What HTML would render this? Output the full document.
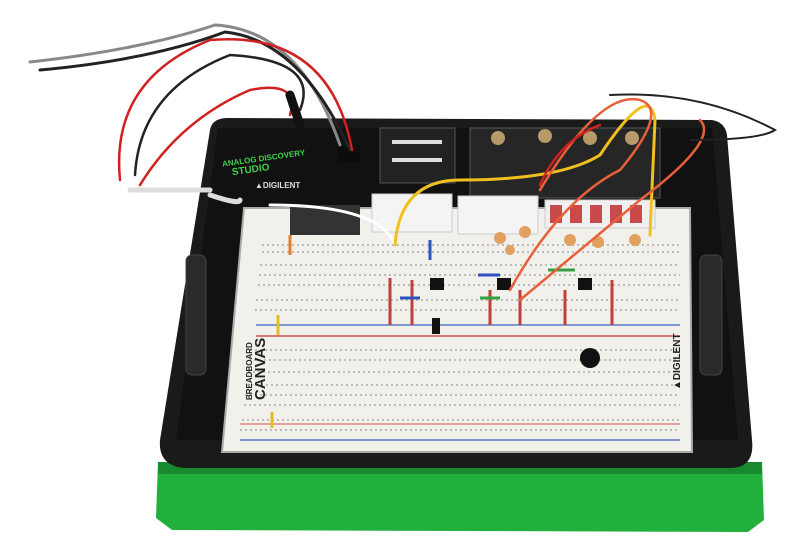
<!DOCTYPE html>
<html><head><meta charset="utf-8"><style>
html,body{margin:0;padding:0;background:#fff;}
svg{display:block}
text{font-family:"Liberation Sans",sans-serif;font-weight:bold}
</style></head><body>
<svg width="800" height="558" viewBox="0 0 800 558" xmlns="http://www.w3.org/2000/svg">
<rect width="800" height="558" fill="#fff"/>
<!-- green base -->
<path d="M158 462 L762 462 L764 520 L748 532 L172 530 L156 518 Z" fill="#22b03c"/>
<path d="M158 462 L762 462 L762 474 L158 474 Z" fill="#168a2c"/>
<!-- black body -->
<path d="M210 130 Q212 118 228 118 L712 120 Q725 122 727 135 L752 440 Q755 468 730 468 L185 468 Q158 466 160 440 Z" fill="#1a1a1a"/>
<path d="M218 128 L712 128 L738 440 L176 440 Z" fill="#111"/>
<!-- handles -->
<rect x="186" y="255" width="20" height="120" rx="6" fill="#2a2a2a" stroke="#444"/>
<rect x="700" y="255" width="22" height="120" rx="6" fill="#2a2a2a" stroke="#444"/>
<!-- top modules -->
<rect x="380" y="128" width="75" height="55" fill="#222" stroke="#555"/>
<g fill="#ddd"><rect x="392" y="140" width="50" height="4"/><rect x="392" y="158" width="50" height="4"/></g>
<rect x="470" y="128" width="190" height="70" fill="#262626" stroke="#555"/>
<g fill="#b89a6a"><circle cx="498" cy="138" r="7"/><circle cx="545" cy="136" r="7"/><circle cx="590" cy="138" r="7"/><circle cx="632" cy="138" r="7"/></g>
<!-- Analog discovery studio text -->
<text x="222" y="160" font-size="8" fill="#3fd14a" transform="rotate(-8 270 160)">ANALOG DISCOVERY</text>
<text x="232" y="170" font-size="10" fill="#3fd14a" transform="rotate(-8 270 170)">STUDIO</text>
<text x="255" y="188" font-size="8" fill="#ddd">▲DIGILENT</text>
<rect x="338" y="145" width="22" height="18" fill="#0c0c0c"/>
<!-- breadboard -->
<path d="M244 208 L690 208 L692 452 L222 452 Z" fill="#f2f0ea" stroke="#aaa" stroke-width="2"/>
<rect x="372" y="194" width="80" height="38" fill="#f4f4f4" stroke="#ccc"/>
<rect x="458" y="196" width="80" height="38" fill="#f4f4f4" stroke="#ccc"/>
<rect x="545" y="200" width="110" height="28" fill="#f0f0f0" stroke="#ccc"/>
<g fill="#c84a4a"><rect x="550" y="205" width="12" height="18"/><rect x="570" y="205" width="12" height="18"/><rect x="590" y="205" width="12" height="18"/><rect x="610" y="205" width="12" height="18"/><rect x="630" y="205" width="12" height="18"/></g>
<rect x="290" y="205" width="70" height="30" fill="#333"/>
<!-- hole rows -->
<g stroke="#bbb" stroke-width="2" stroke-dasharray="2 3">
<line x1="262" y1="245" x2="680" y2="245"/><line x1="262" y1="252" x2="680" y2="252"/>
<line x1="260" y1="265" x2="680" y2="265"/><line x1="259" y1="275" x2="680" y2="275"/><line x1="258" y1="285" x2="680" y2="285"/>
<line x1="256" y1="300" x2="680" y2="300"/><line x1="255" y1="310" x2="680" y2="310"/>
<line x1="250" y1="350" x2="680" y2="350"/><line x1="249" y1="360" x2="680" y2="360"/><line x1="248" y1="372" x2="680" y2="372"/>
<line x1="246" y1="385" x2="680" y2="385"/><line x1="245" y1="395" x2="680" y2="395"/><line x1="244" y1="405" x2="680" y2="405"/>
<line x1="242" y1="420" x2="680" y2="420"/><line x1="240" y1="430" x2="680" y2="430"/>
</g>
<line x1="256" y1="325" x2="680" y2="325" stroke="#5a7ac8" stroke-width="1.5"/>
<line x1="256" y1="336" x2="680" y2="336" stroke="#d05050" stroke-width="1.5"/>
<line x1="240" y1="440" x2="680" y2="440" stroke="#5a7ac8" stroke-width="1.5"/>
<line x1="240" y1="424" x2="680" y2="424" stroke="#d05050" stroke-width="1"/>
<!-- labels -->
<text x="0" y="0" font-size="15" fill="#222" transform="translate(265 400) rotate(-90)">CANVAS</text>
<text x="0" y="0" font-size="8" fill="#222" transform="translate(252 400) rotate(-90)">BREADBOARD</text>
<text x="0" y="0" font-size="10" fill="#222" transform="translate(680 390) rotate(-90)">▲DIGILENT</text>
<!-- ICs and parts -->
<g fill="#111"><rect x="430" y="278" width="14" height="12"/><rect x="497" y="278" width="14" height="12"/><rect x="578" y="278" width="14" height="12"/><rect x="432" y="318" width="8" height="16"/></g>
<circle cx="590" cy="358" r="10" fill="#111"/>
<g stroke-width="3" fill="none">
<line x1="390" y1="278" x2="390" y2="325" stroke="#c04040"/>
<line x1="412" y1="280" x2="412" y2="325" stroke="#c04040"/>
<line x1="490" y1="290" x2="490" y2="325" stroke="#c04040"/>
<line x1="520" y1="290" x2="520" y2="325" stroke="#c04040"/>
<line x1="565" y1="290" x2="565" y2="325" stroke="#c04040"/>
<line x1="612" y1="280" x2="612" y2="325" stroke="#c04040"/>
<line x1="430" y1="240" x2="430" y2="260" stroke="#3050c0"/>
<line x1="478" y1="275" x2="500" y2="275" stroke="#3050c0"/>
<line x1="400" y1="298" x2="420" y2="298" stroke="#3050c0"/>
<line x1="480" y1="298" x2="500" y2="298" stroke="#30a040"/>
<line x1="548" y1="270" x2="575" y2="270" stroke="#30a040"/>
<line x1="278" y1="315" x2="278" y2="335" stroke="#e0c020"/>
<line x1="290" y1="235" x2="290" y2="255" stroke="#e08030"/>
<line x1="272" y1="412" x2="272" y2="428" stroke="#e0c020"/>
</g>
<g fill="#e0a060"><circle cx="500" cy="238" r="6"/><circle cx="525" cy="232" r="6"/><circle cx="570" cy="240" r="6"/><circle cx="598" cy="242" r="6"/><circle cx="635" cy="240" r="6"/><circle cx="510" cy="250" r="5"/></g>
<!-- cables -->
<g fill="none" stroke-linecap="round">
<path d="M30 62 Q140 50 215 25 Q300 30 340 145" stroke="#888" stroke-width="3"/>
<path d="M40 70 Q150 60 225 32 Q300 40 350 150" stroke="#222" stroke-width="3"/>
<path d="M120 180 Q110 80 210 40 Q330 30 352 150" stroke="#d02020" stroke-width="2.5"/>
<path d="M135 175 Q140 90 230 55 Q320 60 300 110" stroke="#222" stroke-width="2.5"/>
<path d="M140 185 Q180 120 250 90 Q300 80 290 115" stroke="#d02020" stroke-width="2.5"/>
<path d="M290 95 L300 125" stroke="#111" stroke-width="9"/>
<path d="M130 190 L210 190 M210 195 Q240 205 240 200" stroke="#ddd" stroke-width="5"/>
<path d="M270 205 Q380 205 395 245" stroke="#fff" stroke-width="3"/>
<path d="M395 245 Q400 180 460 180 Q560 180 600 155 Q650 80 655 120 L650 235" stroke="#f0c020" stroke-width="3"/>
<path d="M510 290 Q560 200 620 170 Q670 110 640 100 Q600 90 540 190" stroke="#e8603a" stroke-width="2.5"/>
<path d="M520 300 Q580 250 640 200 Q720 140 700 120" stroke="#e8603a" stroke-width="2.5"/>
<path d="M610 95 Q700 90 775 130 Q760 140 690 140" stroke="#222" stroke-width="2"/>
<path d="M540 185 Q560 140 600 125" stroke="#d02020" stroke-width="2.5"/>
</g>
</svg>
</body></html>
